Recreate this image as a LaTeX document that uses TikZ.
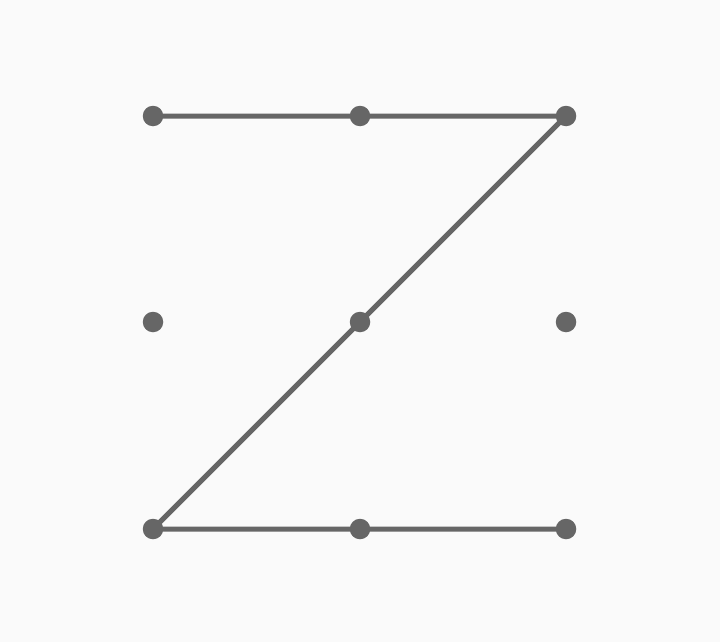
\documentclass[tikz,border=0pt]{standalone}
\definecolor{bg}{HTML}{FAFAFA}
\definecolor{ink}{HTML}{666666}
\begin{document}
\begin{tikzpicture}[x=1pt,y=-1pt,
  dotnode/.style={circle,fill=ink,inner sep=0pt,minimum size=20.5pt},
  seg/.style={draw=ink,line width=5pt}]
\fill[bg] (0,0) rectangle (720,642);
\useasboundingbox (0,0) rectangle (720,642);
\node[dotnode] (a1) at (153,116) {};
\node[dotnode] (a2) at (360,116) {};
\node[dotnode] (a3) at (566,116) {};
\node[dotnode] (b1) at (153,322) {};
\node[dotnode] (b2) at (360,322) {};
\node[dotnode] (b3) at (566,322) {};
\node[dotnode] (c1) at (153,529) {};
\node[dotnode] (c2) at (360,529) {};
\node[dotnode] (c3) at (566,529) {};
\draw[seg] (a1.center) -- (a2.center) -- (a3.center) -- (b2.center) -- (c1.center) -- (c2.center) -- (c3.center);
\end{tikzpicture}
\end{document}
